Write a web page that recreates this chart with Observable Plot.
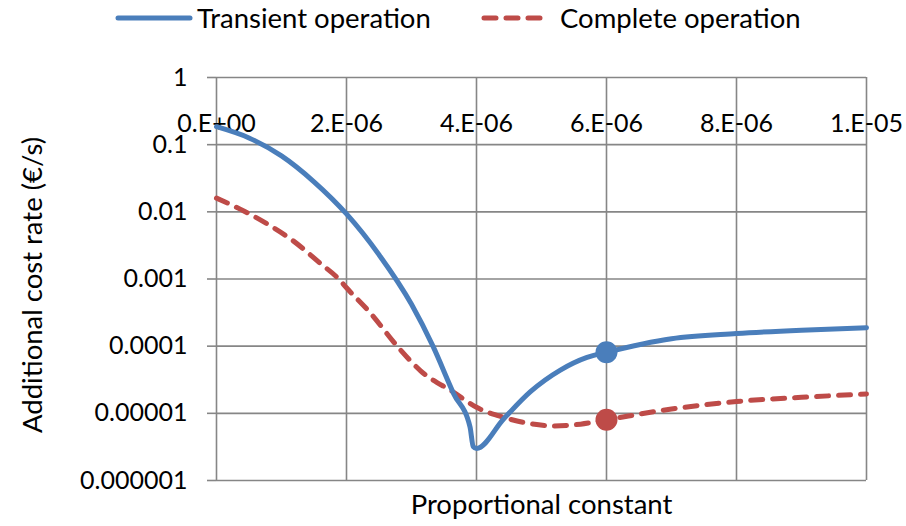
<!DOCTYPE html>
<html>
<head>
<meta charset="utf-8">
<script src="https://cdn.jsdelivr.net/npm/d3@7"></script>
<script src="https://cdn.jsdelivr.net/npm/@observablehq/plot@0.6"></script>
<style>
  html, body { margin: 0; padding: 0; background: #fff; }
  #wrap { position: relative; width: 906px; height: 526px; font-family: Lato, "Open Sans", sans-serif; }
  #legend { position: absolute; left: 0; top: 0; }
</style>
</head>
<body>
<div id="wrap"></div>
<script>
// ---- data ----
const kTransient = [0, 0.5e-6, 1.0e-6, 1.5e-6, 2.0e-6, 2.5e-6, 3.0e-6, 3.33e-6, 3.65e-6, 3.9e-6, 3.95e-6, 4.0e-6, 4.42e-6, 4.83e-6, 5.29e-6, 5.7e-6, 6.0e-6, 7.0e-6, 8.0e-6, 9.0e-6, 1.0e-5];
const costTransient = [0.185, 0.126, 0.068, 0.028, 0.0093, 0.0023, 0.00042, 0.0001, 1.95e-5, 6.3e-6, 3.2e-6, 3.0e-6, 8.3e-6, 2.1e-5, 4.4e-5, 6.8e-5, 8.1e-5, 1.29e-4, 1.54e-4, 1.73e-4, 1.88e-4];

const kComplete = [0, 0.42e-6, 0.78e-6, 1.18e-6, 1.6e-6, 1.88e-6, 2.0e-6, 2.37e-6, 2.78e-6, 3.14e-6, 3.65e-6, 4.0e-6, 4.42e-6, 4.83e-6, 5.2e-6, 5.6e-6, 6.0e-6, 7.0e-6, 8.0e-6, 9.0e-6, 1.0e-5];
const costComplete = [0.016, 0.0103, 0.0066, 0.0037, 0.0017, 0.001, 0.00074, 0.00031, 0.0001, 4.3e-5, 2.05e-5, 1.23e-5, 8.7e-6, 7.0e-6, 6.5e-6, 6.9e-6, 8.0e-6, 1.16e-5, 1.5e-5, 1.73e-5, 1.94e-5];

const markerK = [6.0e-6];
const markerTransient = [8.1e-5];
const markerComplete = [8.0e-6];

const seriesNames = ["Transient operation", "Complete operation"];
const seriesColors = ["#4A7EBB", "#BE4B48"];

const xTicks = [0, 2e-6, 4e-6, 6e-6, 8e-6, 1e-5];
const xTickLabels = ["0.E+00", "2.E-06", "4.E-06", "6.E-06", "8.E-06", "1.E-05"];
const yTicks = [1, 0.1, 0.01, 0.001, 0.0001, 0.00001, 0.000001];
const yTickLabels = ["1", "0.1", "0.01", "0.001", "0.0001", "0.00001", "0.000001"];

const xTitle = "Proportional constant";
const yTitle = "Additional cost rate (€/s)";

// ---- build tables ----
const transient = kTransient.map((k, i) => ({k, cost: costTransient[i]}));
const complete = kComplete.map((k, i) => ({k, cost: costComplete[i]}));
const markersT = markerK.map((k, i) => ({k, cost: markerTransient[i]}));
const markersC = markerK.map((k, i) => ({k, cost: markerComplete[i]}));

const grid = "#868686";
const font = "Lato, 'Open Sans', sans-serif";

const chart = Plot.plot({
  width: 906,
  height: 526,
  marginTop: 77,
  marginBottom: 46,
  marginLeft: 216,
  marginRight: 40,
  style: {fontFamily: font, fontSize: "25px", color: "#000", background: "#fff", overflow: "visible"},
  x: {domain: [0, 1e-5]},
  y: {type: "log", domain: [1e-6, 1]},
  marks: [
    Plot.ruleY(yTicks, {stroke: grid, strokeWidth: 1.6}),
    Plot.ruleX(xTicks, {stroke: grid, strokeWidth: 1.6}),
    Plot.axisY({
      ticks: yTicks,
      tickFormat: d => yTickLabels[yTicks.indexOf(d)],
      tickSize: 9, tickPadding: 20,
      stroke: grid, strokeWidth: 1.6,
      fontSize: 25, label: null
    }),
    Plot.axisX({
      anchor: "top",
      ticks: xTicks,
      tickFormat: d => xTickLabels[xTicks.indexOf(d)],
      tickSize: 0, tickPadding: 0, dy: 54,
      fontSize: 25, label: null
    }),
    Plot.line(complete, {x: "k", y: "cost", stroke: seriesColors[1], strokeWidth: 5, strokeDasharray: "12,10", strokeLinecap: "round", curve: "monotone-x"}),
    Plot.line(transient, {x: "k", y: "cost", stroke: seriesColors[0], strokeWidth: 5, strokeLinecap: "round", strokeLinejoin: "round", curve: "monotone-x"}),
    Plot.dot(markersT, {x: "k", y: "cost", r: 11, fill: seriesColors[0], stroke: "none"}),
    Plot.dot(markersC, {x: "k", y: "cost", r: 11, fill: seriesColors[1], stroke: "none"}),
    Plot.text([xTitle], {text: d => d, frameAnchor: "bottom", dy: 33, lineAnchor: "bottom", fontSize: 27.5}),
    Plot.text([yTitle], {text: d => d, frameAnchor: "left", textAnchor: "middle", rotate: -90, dx: -175, dy: 6, lineAnchor: "bottom", fontSize: 27.5})
  ]
});

const wrap = document.getElementById("wrap");
wrap.appendChild(chart);

// ---- legend (above the plot area) ----
const legend = d3.select(wrap).append("svg")
  .attr("id", "legend")
  .attr("width", 906).attr("height", 45)
  .style("font-family", font).style("font-size", "27.5px");

const legendItems = [
  {name: seriesNames[0], color: seriesColors[0], dash: null, x1: 118, x2: 190, tx: 197},
  {name: seriesNames[1], color: seriesColors[1], dash: "12,10", x1: 484, x2: 545, tx: 560}
];
const g = legend.selectAll("g").data(legendItems).join("g");
g.append("line")
  .attr("x1", d => d.x1).attr("x2", d => d.x2)
  .attr("y1", 18).attr("y2", 18)
  .attr("stroke", d => d.color).attr("stroke-width", 5)
  .attr("stroke-linecap", "round")
  .attr("stroke-dasharray", d => d.dash);
g.append("text")
  .attr("x", d => d.tx).attr("y", 28)
  .attr("fill", "#000")
  .text(d => d.name);
</script>
</body>
</html>
